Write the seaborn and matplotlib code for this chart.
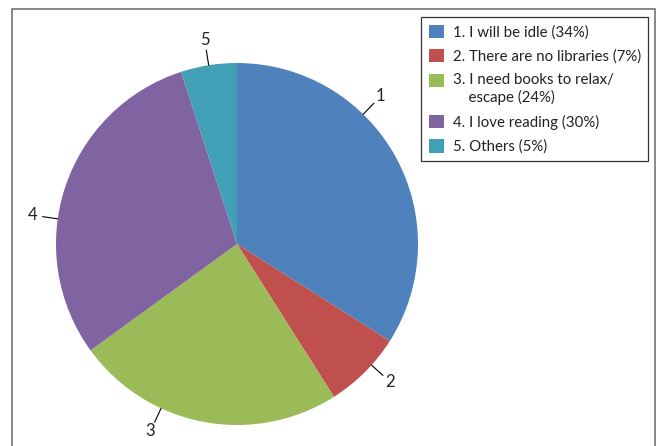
import numpy as np
import matplotlib
matplotlib.use("Agg")
import matplotlib.pyplot as plt
import seaborn as sns
from matplotlib.patches import Patch, Rectangle

# ---- data ----
categories = ["1", "2", "3", "4", "5"]
shares = [34, 7, 24, 30, 5]
legend_labels = [
    "1. I will be idle (34%)",
    "2. There are no libraries (7%)",
    "3. I need books to relax/\n    escape (24%)",
    "4. I love reading (30%)",
    "5. Others (5%)",
]
colors = ["#4F81BD", "#C0504D", "#9BBB59", "#8064A2", "#42A0B6"]

# label angle tweaks (degrees, layout only)
label_shift = [17, 3, -14, 10, 0]

sns.set_theme(style="white")
plt.rcParams["font.family"] = ["Lato", "DejaVu Sans"]

W, H = 660, 446
fig = plt.figure(figsize=(W / 100, H / 100), dpi=100)
ax = fig.add_axes([0, 0, 1, 1])

cx, cy, R = 237, H - 244, 181
wedges, _ = ax.pie(shares, colors=colors, startangle=90, counterclock=False,
                   center=(cx, cy), radius=R, frame=True,
                   wedgeprops=dict(linewidth=0))
ax.set_xlim(0, W)
ax.set_ylim(0, H)
ax.set_aspect("equal")
ax.axis("off")

for w, lab, sh in zip(wedges, categories, label_shift):
    mid = (w.theta1 + w.theta2) / 2 + sh
    t = np.deg2rad(mid)
    x0, y0 = cx + R * np.cos(t), cy + R * np.sin(t)
    x1, y1 = cx + R * 1.085 * np.cos(t), cy + R * 1.085 * np.sin(t)
    x2, y2 = cx + R * 1.14 * np.cos(t), cy + R * 1.14 * np.sin(t)
    ax.plot([x0, x1], [y0, y1], color="black", lw=0.8)
    ax.text(x2, y2, lab, ha="center", va="center", fontsize=12, color="#222222")

handles = [Patch(facecolor=c, edgecolor="none") for c in colors]
fs = 10.8
leg = ax.legend(handles, legend_labels, loc="upper left",
                bbox_to_anchor=(421 / W, 1 - 17 / H), bbox_transform=fig.transFigure,
                borderaxespad=0, frameon=True, fancybox=False, fontsize=fs,
                handlelength=1.0, handleheight=1.0, handletextpad=0.6,
                labelspacing=0.64, borderpad=0.5)
leg.get_frame().set_edgecolor("black")
leg.get_frame().set_linewidth(0.9)
for t in leg.get_texts():
    t.set_color("#222222")
# align the two-line entry's swatch with its first line
for h, lab in zip(leg.legend_handles, legend_labels):
    if "\n" in lab:
        h.set_y(h.get_y() + 0.6 * fs)

# outer frame
fig.patches.append(Rectangle((12 / W, -0.05), (655 - 12) / W, (H - 9) / H + 0.05,
                             transform=fig.transFigure, fill=False,
                             edgecolor="#7f7f7f", lw=1.3))

fig.savefig("out.png", dpi=100)
